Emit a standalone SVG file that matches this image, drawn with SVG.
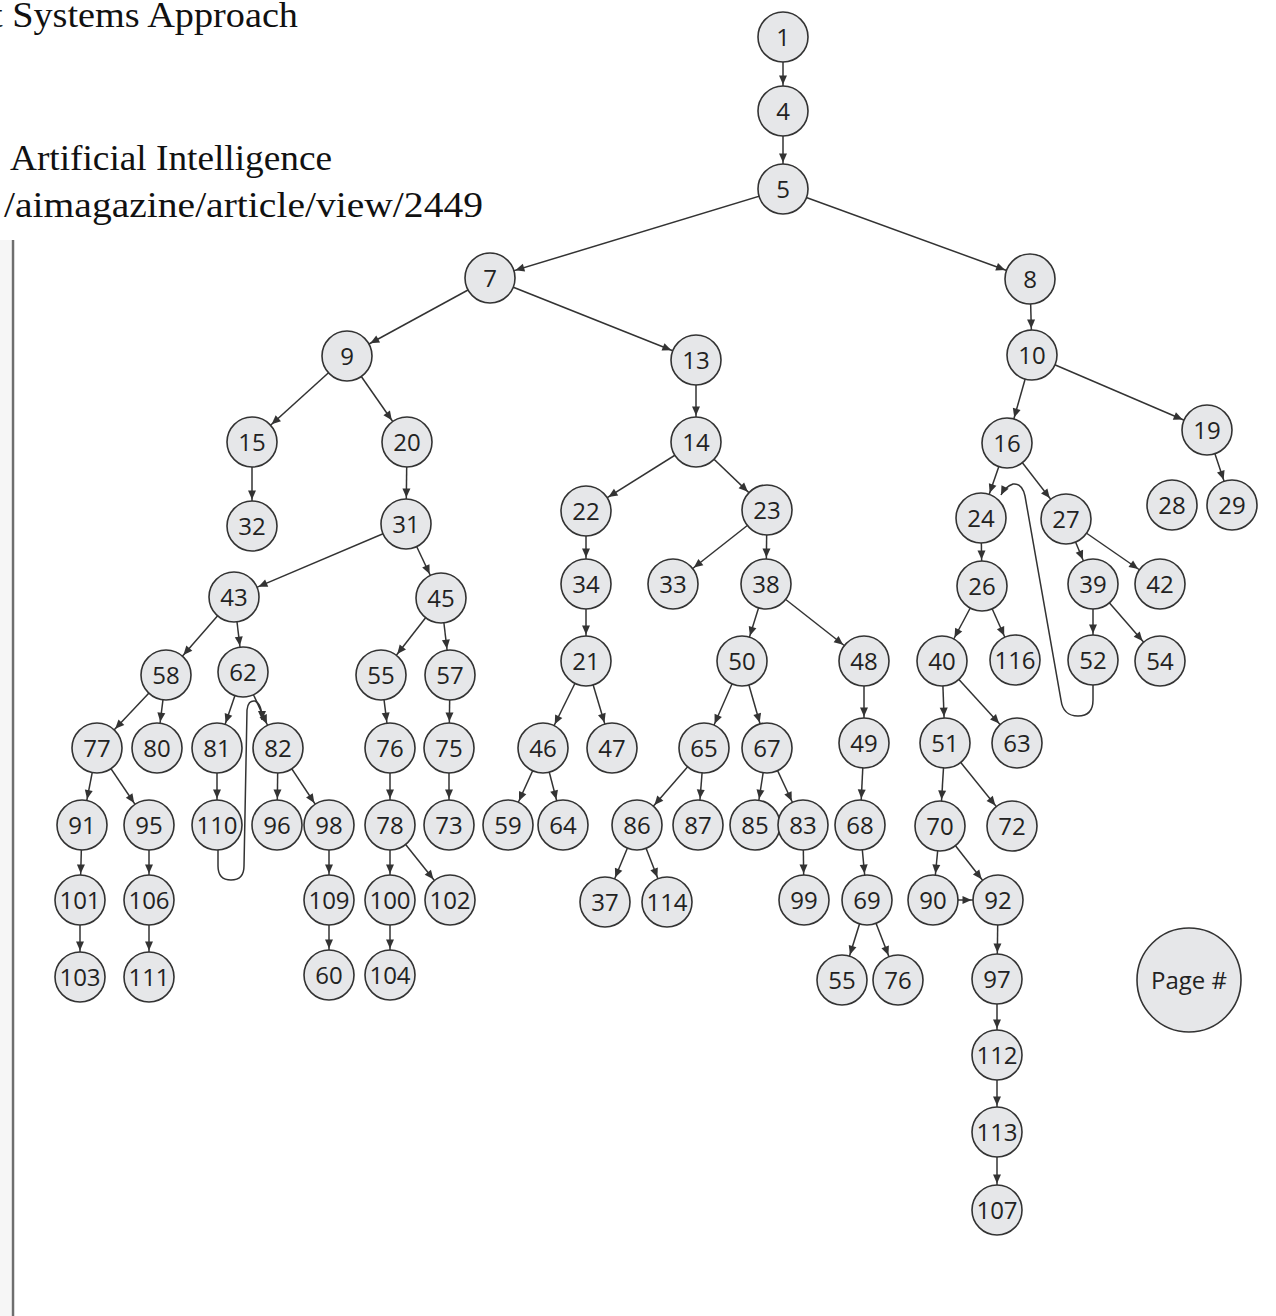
<svg xmlns="http://www.w3.org/2000/svg" width="1276" height="1316" viewBox="0 0 1276 1316">
<style>
.n circle{fill:#e6e7e9;stroke:#333;stroke-width:1.6}
.n text{font-family:"Open Sans","Noto Sans",sans-serif;font-size:24px;fill:#222;text-anchor:middle}
.e line{stroke:#333;stroke-width:1.5;marker-end:url(#a)}
.e path{fill:none;stroke:#333;stroke-width:1.5;marker-end:url(#b)}
.t{font-family:"Liberation Serif",serif;font-size:36px;fill:#111}
</style>
<defs>
<marker id="a" markerUnits="userSpaceOnUse" viewBox="-10 -5 40 10" markerWidth="40" markerHeight="10" refX="26.5" refY="0" orient="auto" overflow="visible"><path d="M0,0 L-9,-4 L-9,4 z" fill="#333"/></marker>
<marker id="b" markerUnits="userSpaceOnUse" viewBox="-10 -5 20 10" markerWidth="20" markerHeight="10" refX="0" refY="0" orient="auto" overflow="visible"><path d="M0,0 L-9,-4 L-9,4 z" fill="#333"/></marker>
</defs>
<rect width="1276" height="1316" fill="#fff"/>
<rect x="0" y="240" width="11" height="1076" fill="#f6f6f6"/>
<line x1="13" y1="240" x2="13" y2="1316" stroke="#6e6e6e" stroke-width="2.5"/>
<text class="t" x="-8" y="27" textLength="306" lengthAdjust="spacingAndGlyphs">t Systems Approach</text>
<text class="t" x="10" y="170" textLength="322" lengthAdjust="spacingAndGlyphs">Artificial Intelligence</text>
<text class="t" x="4" y="217" textLength="479" lengthAdjust="spacingAndGlyphs">/aimagazine/article/view/2449</text>
<g id="edges" class="e">
<line x1="783" y1="37" x2="783" y2="111"/>
<line x1="783" y1="111" x2="783" y2="189"/>
<line x1="783" y1="189" x2="490" y2="278"/>
<line x1="783" y1="189" x2="1030" y2="279"/>
<line x1="490" y1="278" x2="347" y2="356"/>
<line x1="490" y1="278" x2="696" y2="360"/>
<line x1="1030" y1="279" x2="1032" y2="355"/>
<line x1="347" y1="356" x2="252" y2="442"/>
<line x1="347" y1="356" x2="407" y2="442"/>
<line x1="696" y1="360" x2="696" y2="442"/>
<line x1="1032" y1="355" x2="1007" y2="443"/>
<line x1="1032" y1="355" x2="1207" y2="430"/>
<line x1="252" y1="442" x2="252" y2="526"/>
<line x1="407" y1="442" x2="406" y2="524"/>
<line x1="696" y1="442" x2="586" y2="511"/>
<line x1="696" y1="442" x2="767" y2="510"/>
<line x1="1007" y1="443" x2="981" y2="518"/>
<line x1="1007" y1="443" x2="1066" y2="519"/>
<line x1="1207" y1="430" x2="1232" y2="505"/>
<line x1="406" y1="524" x2="234" y2="597"/>
<line x1="406" y1="524" x2="441" y2="598"/>
<line x1="586" y1="511" x2="586" y2="584"/>
<line x1="767" y1="510" x2="673" y2="584"/>
<line x1="767" y1="510" x2="766" y2="584"/>
<line x1="981" y1="518" x2="982" y2="586"/>
<line x1="1066" y1="519" x2="1093" y2="584"/>
<line x1="1066" y1="519" x2="1160" y2="584"/>
<line x1="234" y1="597" x2="166" y2="675"/>
<line x1="234" y1="597" x2="243" y2="672"/>
<line x1="441" y1="598" x2="381" y2="675"/>
<line x1="441" y1="598" x2="450" y2="675"/>
<line x1="586" y1="584" x2="586" y2="661"/>
<line x1="766" y1="584" x2="742" y2="661"/>
<line x1="766" y1="584" x2="864" y2="661"/>
<line x1="982" y1="586" x2="942" y2="661"/>
<line x1="982" y1="586" x2="1015" y2="660"/>
<line x1="1093" y1="584" x2="1093" y2="660"/>
<line x1="1093" y1="584" x2="1160" y2="661"/>
<line x1="166" y1="675" x2="97" y2="748"/>
<line x1="166" y1="675" x2="157" y2="748"/>
<line x1="243" y1="672" x2="217" y2="748"/>
<line x1="243" y1="672" x2="278" y2="748"/>
<line x1="381" y1="675" x2="390" y2="748"/>
<line x1="450" y1="675" x2="449" y2="748"/>
<line x1="586" y1="661" x2="543" y2="748"/>
<line x1="586" y1="661" x2="612" y2="748"/>
<line x1="742" y1="661" x2="704" y2="748"/>
<line x1="742" y1="661" x2="767" y2="748"/>
<line x1="864" y1="661" x2="864" y2="743"/>
<line x1="942" y1="661" x2="945" y2="743"/>
<line x1="942" y1="661" x2="1017" y2="743"/>
<line x1="97" y1="748" x2="82" y2="825"/>
<line x1="97" y1="748" x2="149" y2="825"/>
<line x1="217" y1="748" x2="217" y2="825"/>
<line x1="278" y1="748" x2="277" y2="825"/>
<line x1="278" y1="748" x2="329" y2="825"/>
<line x1="390" y1="748" x2="390" y2="825"/>
<line x1="449" y1="748" x2="449" y2="825"/>
<line x1="543" y1="748" x2="508" y2="825"/>
<line x1="543" y1="748" x2="563" y2="825"/>
<line x1="704" y1="748" x2="637" y2="825"/>
<line x1="704" y1="748" x2="698" y2="825"/>
<line x1="767" y1="748" x2="755" y2="825"/>
<line x1="767" y1="748" x2="803" y2="825"/>
<line x1="864" y1="743" x2="860" y2="825"/>
<line x1="945" y1="743" x2="940" y2="826"/>
<line x1="945" y1="743" x2="1012" y2="826"/>
<line x1="82" y1="825" x2="80" y2="900"/>
<line x1="149" y1="825" x2="149" y2="900"/>
<line x1="329" y1="825" x2="329" y2="900"/>
<line x1="390" y1="825" x2="390" y2="900"/>
<line x1="390" y1="825" x2="450" y2="900"/>
<line x1="637" y1="825" x2="605" y2="902"/>
<line x1="637" y1="825" x2="667" y2="902"/>
<line x1="803" y1="825" x2="804" y2="900"/>
<line x1="860" y1="825" x2="867" y2="900"/>
<line x1="940" y1="826" x2="933" y2="900"/>
<line x1="940" y1="826" x2="998" y2="900"/>
<line x1="933" y1="900" x2="998" y2="900"/>
<line x1="80" y1="900" x2="80" y2="977"/>
<line x1="149" y1="900" x2="149" y2="977"/>
<line x1="329" y1="900" x2="329" y2="975"/>
<line x1="390" y1="900" x2="390" y2="975"/>
<line x1="867" y1="900" x2="842" y2="980"/>
<line x1="867" y1="900" x2="898" y2="980"/>
<line x1="998" y1="900" x2="997" y2="979"/>
<line x1="997" y1="979" x2="997" y2="1055"/>
<line x1="997" y1="1055" x2="997" y2="1132"/>
<line x1="997" y1="1132" x2="997" y2="1210"/>
<path d="M218,850 L218,866 Q218,880 231,880 Q244,880 244,866 L247,710 Q248,700 255,701 Q262,704 262,720"/>
<path d="M1093,685 L1093,700 Q1093,716 1078,716 Q1063,716 1061,700 L1025,496 Q1022,483 1013,484 Q1005,487 1001,495"/>
</g>
<g id="nodes" class="n">
<g id="n1"><circle cx="783" cy="37" r="25"/><text x="783" y="45.5">1</text></g>
<g id="n4"><circle cx="783" cy="111" r="25"/><text x="783" y="119.5">4</text></g>
<g id="n5"><circle cx="783" cy="189" r="25"/><text x="783" y="197.5">5</text></g>
<g id="n7"><circle cx="490" cy="278" r="25"/><text x="490" y="286.5">7</text></g>
<g id="n8"><circle cx="1030" cy="279" r="25"/><text x="1030" y="287.5">8</text></g>
<g id="n9"><circle cx="347" cy="356" r="25"/><text x="347" y="364.5">9</text></g>
<g id="n13"><circle cx="696" cy="360" r="25"/><text x="696" y="368.5">13</text></g>
<g id="n10"><circle cx="1032" cy="355" r="25"/><text x="1032" y="363.5">10</text></g>
<g id="n15"><circle cx="252" cy="442" r="25"/><text x="252" y="450.5">15</text></g>
<g id="n20"><circle cx="407" cy="442" r="25"/><text x="407" y="450.5">20</text></g>
<g id="n14"><circle cx="696" cy="442" r="25"/><text x="696" y="450.5">14</text></g>
<g id="n16"><circle cx="1007" cy="443" r="25"/><text x="1007" y="451.5">16</text></g>
<g id="n19"><circle cx="1207" cy="430" r="25"/><text x="1207" y="438.5">19</text></g>
<g id="n32"><circle cx="252" cy="526" r="25"/><text x="252" y="534.5">32</text></g>
<g id="n31"><circle cx="406" cy="524" r="25"/><text x="406" y="532.5">31</text></g>
<g id="n22"><circle cx="586" cy="511" r="25"/><text x="586" y="519.5">22</text></g>
<g id="n23"><circle cx="767" cy="510" r="25"/><text x="767" y="518.5">23</text></g>
<g id="n24"><circle cx="981" cy="518" r="25"/><text x="981" y="526.5">24</text></g>
<g id="n27"><circle cx="1066" cy="519" r="25"/><text x="1066" y="527.5">27</text></g>
<g id="n28"><circle cx="1172" cy="505" r="25"/><text x="1172" y="513.5">28</text></g>
<g id="n29"><circle cx="1232" cy="505" r="25"/><text x="1232" y="513.5">29</text></g>
<g id="n43"><circle cx="234" cy="597" r="25"/><text x="234" y="605.5">43</text></g>
<g id="n45"><circle cx="441" cy="598" r="25"/><text x="441" y="606.5">45</text></g>
<g id="n34"><circle cx="586" cy="584" r="25"/><text x="586" y="592.5">34</text></g>
<g id="n33"><circle cx="673" cy="584" r="25"/><text x="673" y="592.5">33</text></g>
<g id="n38"><circle cx="766" cy="584" r="25"/><text x="766" y="592.5">38</text></g>
<g id="n26"><circle cx="982" cy="586" r="25"/><text x="982" y="594.5">26</text></g>
<g id="n39"><circle cx="1093" cy="584" r="25"/><text x="1093" y="592.5">39</text></g>
<g id="n42"><circle cx="1160" cy="584" r="25"/><text x="1160" y="592.5">42</text></g>
<g id="n58"><circle cx="166" cy="675" r="25"/><text x="166" y="683.5">58</text></g>
<g id="n62"><circle cx="243" cy="672" r="25"/><text x="243" y="680.5">62</text></g>
<g id="n55"><circle cx="381" cy="675" r="25"/><text x="381" y="683.5">55</text></g>
<g id="n57"><circle cx="450" cy="675" r="25"/><text x="450" y="683.5">57</text></g>
<g id="n21"><circle cx="586" cy="661" r="25"/><text x="586" y="669.5">21</text></g>
<g id="n50"><circle cx="742" cy="661" r="25"/><text x="742" y="669.5">50</text></g>
<g id="n48"><circle cx="864" cy="661" r="25"/><text x="864" y="669.5">48</text></g>
<g id="n40"><circle cx="942" cy="661" r="25"/><text x="942" y="669.5">40</text></g>
<g id="n116"><circle cx="1015" cy="660" r="25"/><text x="1015" y="668.5">116</text></g>
<g id="n52"><circle cx="1093" cy="660" r="25"/><text x="1093" y="668.5">52</text></g>
<g id="n54"><circle cx="1160" cy="661" r="25"/><text x="1160" y="669.5">54</text></g>
<g id="n77"><circle cx="97" cy="748" r="25"/><text x="97" y="756.5">77</text></g>
<g id="n80"><circle cx="157" cy="748" r="25"/><text x="157" y="756.5">80</text></g>
<g id="n81"><circle cx="217" cy="748" r="25"/><text x="217" y="756.5">81</text></g>
<g id="n82"><circle cx="278" cy="748" r="25"/><text x="278" y="756.5">82</text></g>
<g id="n76"><circle cx="390" cy="748" r="25"/><text x="390" y="756.5">76</text></g>
<g id="n75"><circle cx="449" cy="748" r="25"/><text x="449" y="756.5">75</text></g>
<g id="n46"><circle cx="543" cy="748" r="25"/><text x="543" y="756.5">46</text></g>
<g id="n47"><circle cx="612" cy="748" r="25"/><text x="612" y="756.5">47</text></g>
<g id="n65"><circle cx="704" cy="748" r="25"/><text x="704" y="756.5">65</text></g>
<g id="n67"><circle cx="767" cy="748" r="25"/><text x="767" y="756.5">67</text></g>
<g id="n49"><circle cx="864" cy="743" r="25"/><text x="864" y="751.5">49</text></g>
<g id="n51"><circle cx="945" cy="743" r="25"/><text x="945" y="751.5">51</text></g>
<g id="n63"><circle cx="1017" cy="743" r="25"/><text x="1017" y="751.5">63</text></g>
<g id="n91"><circle cx="82" cy="825" r="25"/><text x="82" y="833.5">91</text></g>
<g id="n95"><circle cx="149" cy="825" r="25"/><text x="149" y="833.5">95</text></g>
<g id="n110"><circle cx="217" cy="825" r="25"/><text x="217" y="833.5">110</text></g>
<g id="n96"><circle cx="277" cy="825" r="25"/><text x="277" y="833.5">96</text></g>
<g id="n98"><circle cx="329" cy="825" r="25"/><text x="329" y="833.5">98</text></g>
<g id="n78"><circle cx="390" cy="825" r="25"/><text x="390" y="833.5">78</text></g>
<g id="n73"><circle cx="449" cy="825" r="25"/><text x="449" y="833.5">73</text></g>
<g id="n59"><circle cx="508" cy="825" r="25"/><text x="508" y="833.5">59</text></g>
<g id="n64"><circle cx="563" cy="825" r="25"/><text x="563" y="833.5">64</text></g>
<g id="n86"><circle cx="637" cy="825" r="25"/><text x="637" y="833.5">86</text></g>
<g id="n87"><circle cx="698" cy="825" r="25"/><text x="698" y="833.5">87</text></g>
<g id="n85"><circle cx="755" cy="825" r="25"/><text x="755" y="833.5">85</text></g>
<g id="n83"><circle cx="803" cy="825" r="25"/><text x="803" y="833.5">83</text></g>
<g id="n68"><circle cx="860" cy="825" r="25"/><text x="860" y="833.5">68</text></g>
<g id="n70"><circle cx="940" cy="826" r="25"/><text x="940" y="834.5">70</text></g>
<g id="n72"><circle cx="1012" cy="826" r="25"/><text x="1012" y="834.5">72</text></g>
<g id="n101"><circle cx="80" cy="900" r="25"/><text x="80" y="908.5">101</text></g>
<g id="n106"><circle cx="149" cy="900" r="25"/><text x="149" y="908.5">106</text></g>
<g id="n109"><circle cx="329" cy="900" r="25"/><text x="329" y="908.5">109</text></g>
<g id="n100"><circle cx="390" cy="900" r="25"/><text x="390" y="908.5">100</text></g>
<g id="n102"><circle cx="450" cy="900" r="25"/><text x="450" y="908.5">102</text></g>
<g id="n37"><circle cx="605" cy="902" r="25"/><text x="605" y="910.5">37</text></g>
<g id="n114"><circle cx="667" cy="902" r="25"/><text x="667" y="910.5">114</text></g>
<g id="n99"><circle cx="804" cy="900" r="25"/><text x="804" y="908.5">99</text></g>
<g id="n69"><circle cx="867" cy="900" r="25"/><text x="867" y="908.5">69</text></g>
<g id="n90"><circle cx="933" cy="900" r="25"/><text x="933" y="908.5">90</text></g>
<g id="n92"><circle cx="998" cy="900" r="25"/><text x="998" y="908.5">92</text></g>
<g id="n103"><circle cx="80" cy="977" r="25"/><text x="80" y="985.5">103</text></g>
<g id="n111"><circle cx="149" cy="977" r="25"/><text x="149" y="985.5">111</text></g>
<g id="n60"><circle cx="329" cy="975" r="25"/><text x="329" y="983.5">60</text></g>
<g id="n104"><circle cx="390" cy="975" r="25"/><text x="390" y="983.5">104</text></g>
<g id="n55b"><circle cx="842" cy="980" r="25"/><text x="842" y="988.5">55</text></g>
<g id="n76b"><circle cx="898" cy="980" r="25"/><text x="898" y="988.5">76</text></g>
<g id="n97"><circle cx="997" cy="979" r="25"/><text x="997" y="987.5">97</text></g>
<g id="n112"><circle cx="997" cy="1055" r="25"/><text x="997" y="1063.5">112</text></g>
<g id="n113"><circle cx="997" cy="1132" r="25"/><text x="997" y="1140.5">113</text></g>
<g id="n107"><circle cx="997" cy="1210" r="25"/><text x="997" y="1218.5">107</text></g>
<g id="legend"><circle cx="1189" cy="980" r="52"/><text x="1189" y="988.5">Page #</text></g>
</g>
</svg>
